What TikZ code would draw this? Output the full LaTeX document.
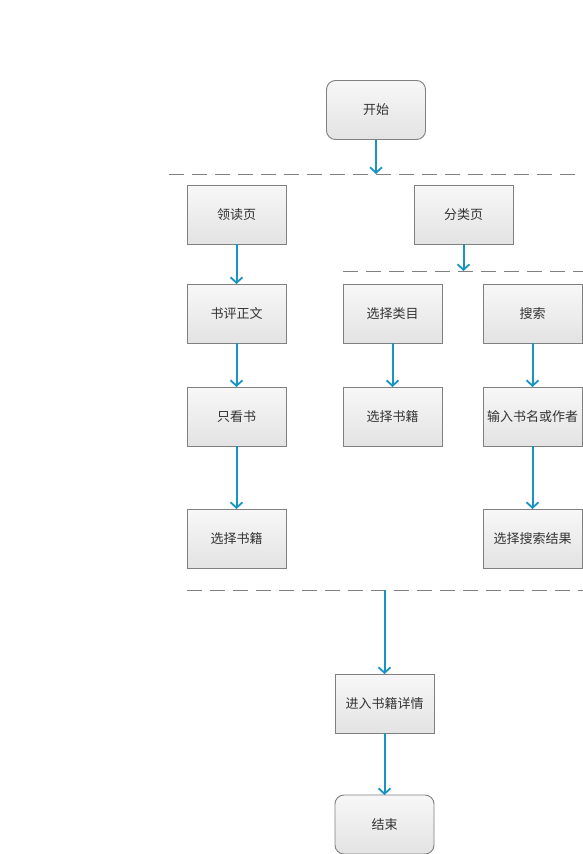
\documentclass[tikz,border=0pt]{standalone}
\usepackage{fontspec}
\setmainfont{Noto Sans CJK SC}
\usepackage{xcolor}
\usepackage{tikz}
\usetikzlibrary{positioning, arrows.meta}
\definecolor{flowblue}{RGB}{24,148,192}
\definecolor{rahmen}{RGB}{128,128,128}
\definecolor{schrift}{RGB}{51,51,51}
\tikzset{
    box/.style     = {draw=rahmen, line width=0.9pt, top color=black!3, bottom color=black!11,
                      minimum width=99pt, minimum height=59pt, inner sep=0pt, outer sep=0pt,
                      text=schrift, font=\fontsize{13}{15}\selectfont},
    endbox/.style  = {box, rounded corners=9pt},
    flow/.style    = {-{Straight Barb[length=5.5pt, width=12pt, line width=1.8pt]},
                      flowblue, line width=2pt},
    trenner/.style = {rahmen, line width=0.9pt, dash pattern=on 15pt off 8pt}
}
\begin{document}
\begin{tikzpicture}[x=1pt, y=-1pt]
        \useasboundingbox (0,0) rectangle (583,854);
        \node[endbox] (start) at (376,110) {开始};

        \node[box] (lingdu) at (236.5,214.5) {领读页};
        \node[box, below=40pt of lingdu] (shuping) {书评正文};
        \node[box, below=44pt of shuping] (zhikan) {只看书};
        \node[box, below=63pt of zhikan] (xuanze1) {选择书籍};

        \node[box] (fenlei) at (463.5,214.5) {分类页};
        \node[box] (leimu) at (392.5,313.5) {选择类目};
        \node[box, right=41pt of leimu] (sousuo) {搜索};
        \node[box, below=44pt of leimu] (xuanze2) {选择书籍};
        \node[box, below=44pt of sousuo] (shuru) {输入书名或作者};
        \node[box, below=63pt of shuru] (jieguo) {选择搜索结果};

        \node[box] (xiangqing) at (384.5,703.5) {进入书籍详情};
        \node[endbox, below=62pt of xiangqing] (jieshu) {结束};

        % Trennlinien
        \coordinate (t1a) at (169,174);  \coordinate (t1b) at (583,174);
        \coordinate (t2a) at (343,271);  \coordinate (t2b) at (583,271);
        \coordinate (t3a) at (187,590);  \coordinate (t3b) at (583,590);
        \draw[trenner] (t1a) -- (t1b);
        \draw[trenner] (t2a) -- (t2b);
        \draw[trenner] (t3a) -- (t3b);

        \draw[flow] (start) -- (start |- t1a);
        \draw[flow] (fenlei) -- (fenlei |- t2a);
        \draw[flow] (lingdu) -- (shuping);
        \draw[flow] (shuping) -- (zhikan);
        \draw[flow] (zhikan) -- (xuanze1);
        \draw[flow] (leimu) -- (xuanze2);
        \draw[flow] (sousuo) -- (shuru);
        \draw[flow] (shuru) -- (jieguo);
        \draw[flow] (xiangqing |- t3a) -- (xiangqing);
        \draw[flow] (xiangqing) -- (jieshu);
    \end{tikzpicture}
\end{document}
